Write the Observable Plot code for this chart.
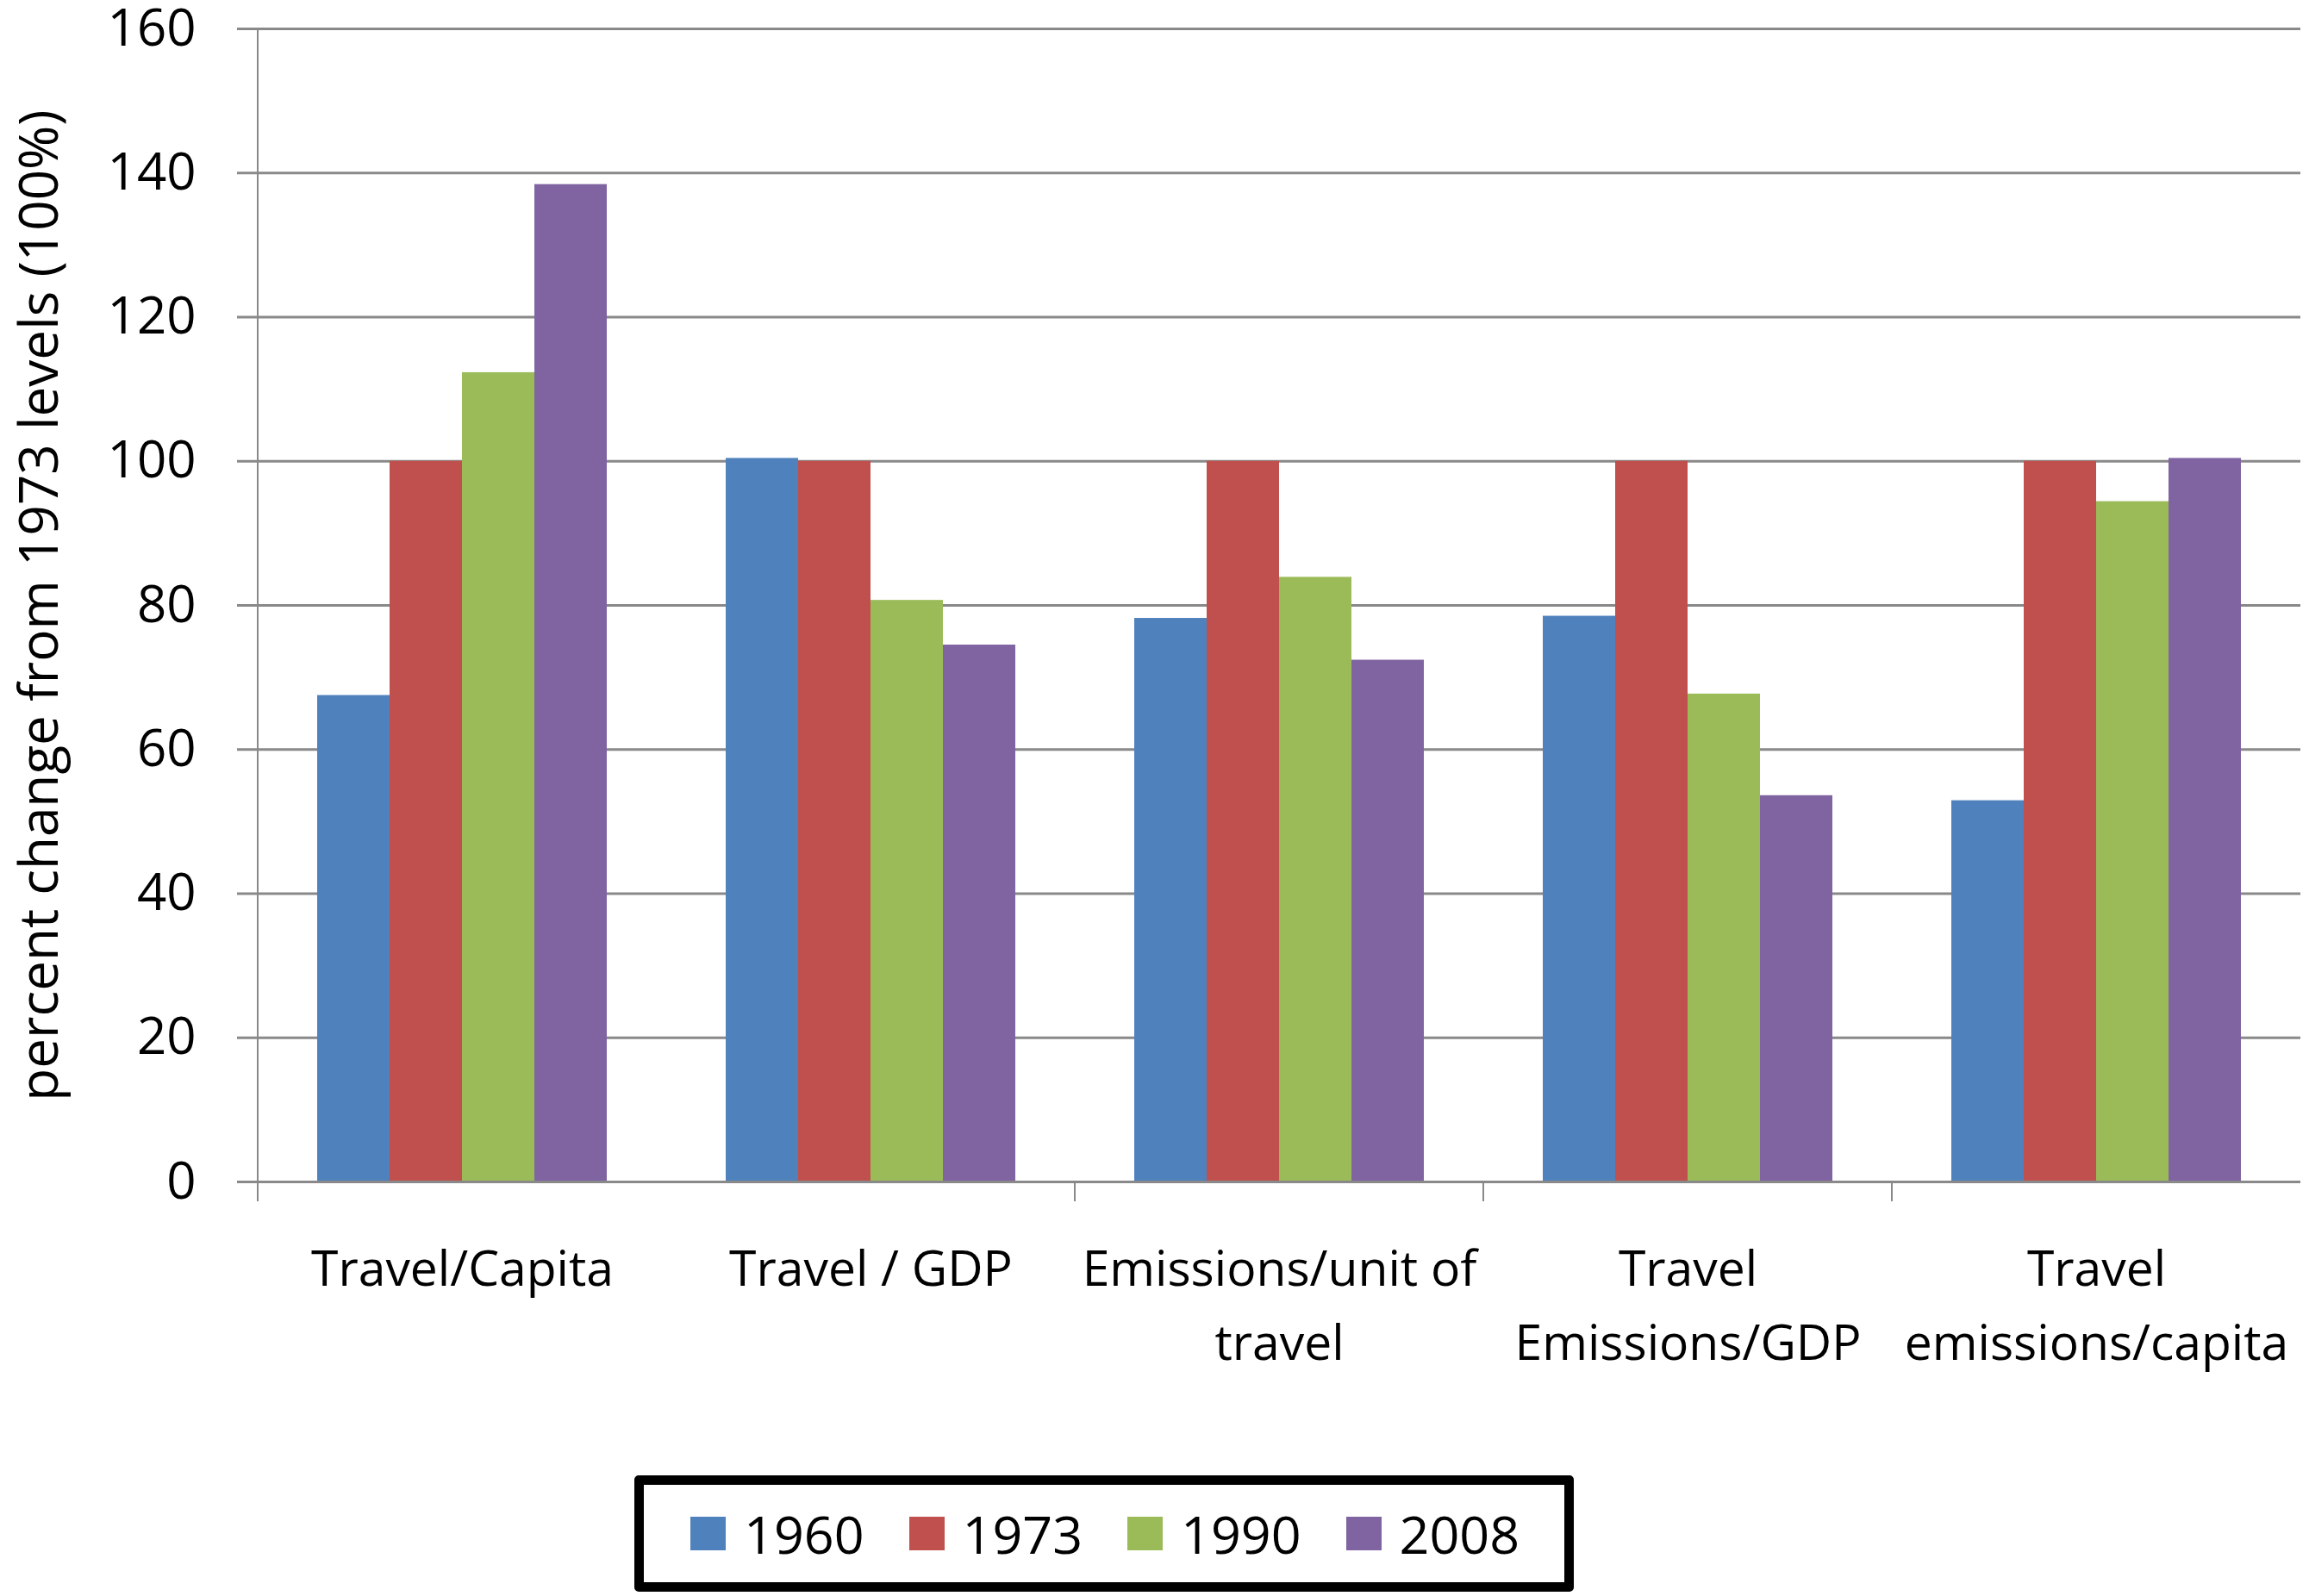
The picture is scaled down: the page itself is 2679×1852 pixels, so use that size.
<!DOCTYPE html>
<html>
<head>
<meta charset="utf-8">
<script src="https://cdn.jsdelivr.net/npm/d3@7"></script>
<script src="https://cdn.jsdelivr.net/npm/@observablehq/plot@0.6"></script>
<style>
  html, body { margin: 0; padding: 0; background: #fff; }
  #wrap { position: relative; width: 2679px; height: 1852px; font-family: "Open Sans", sans-serif; background: #fff; }
  #chart svg { display: block; overflow: visible; }
  #legend { position: absolute; left: 736px; top: 1712px; width: 1090px; height: 135px; box-sizing: border-box;
            border: 11px solid #000; border-radius: 5px; display: flex; align-items: center; padding-left: 54px; }
  .item { display: flex; align-items: center; width: 262px; }
  .sw { width: 41px; height: 39px; margin-right: 21px; }
  .lab { font-size: 61px; line-height: 1; color: #000; }
</style>
</head>
<body>
<div id="wrap">
  <div id="chart"></div>
  <div id="legend"></div>
</div>
<script>
const categories = ["Travel/Capita", "Travel / GDP", "Emissions/unit of travel", "Travel Emissions/GDP", "Travel emissions/capita"];
const categoryLabels = ["Travel/Capita", "Travel / GDP", "Emissions/unit of\ntravel", "Travel\nEmissions/GDP", "Travel\nemissions/capita"];
const years = ["1960", "1973", "1990", "2008"];
const values1960 = [67.5, 100.4, 78.2, 78.5, 52.9];
const values1973 = [100, 100, 100, 100, 100];
const values1990 = [112.3, 80.7, 83.9, 67.7, 94.4];
const values2008 = [138.4, 74.5, 72.4, 53.6, 100.4];
const colors = ["#4F81BD", "#C0504D", "#9BBB59", "#8064A2"];
const yTicks = [0, 20, 40, 60, 80, 100, 120, 140, 160];
const yTitle = "percent change from 1973 levels (100%)";

const series = [values1960, values1973, values1990, values2008];
const rows = categories.flatMap((c, i) => years.map((yr, j) => ({category: c, year: yr, value: series[j][i]})));

const grid = "#898989";

const chart = Plot.plot({
  width: 2679,
  height: 1680,
  marginLeft: 299,
  marginRight: 10,
  marginTop: 33,
  marginBottom: 309,
  style: {fontFamily: "'Open Sans', sans-serif", background: "#fff", color: "#000", overflow: "visible"},
  fx: {domain: categories, padding: 0, label: null},
  x: {domain: years, paddingInner: 0, paddingOuter: 0.79, axis: null},
  y: {domain: [0, 160], label: null},
  color: {domain: years, range: colors},
  marks: [
    Plot.ruleY(yTicks, {stroke: grid, strokeWidth: 3}),
    Plot.barY(rows, {fx: "category", x: "year", y: "value", fill: "year"}),
    Plot.ruleY([0], {stroke: grid, strokeWidth: 3}),
    Plot.axisY({ticks: yTicks, tickSize: 24, tickPadding: 48, fontSize: 60, stroke: grid, strokeWidth: 3, fill: "#000", label: null}),
    Plot.axisY({ticks: [], label: yTitle, labelAnchor: "center", labelOffset: 277, labelArrow: false, fontSize: 62, fill: "#000"}),
    Plot.axisFx({anchor: "bottom", tickSize: 0, tickPadding: 60, fontSize: 57, lineHeight: 1.5, fill: "#000",
                 tickFormat: c => categoryLabels[categories.indexOf(c)], label: null})
  ]
});

document.getElementById("chart").appendChild(chart);

// axis line and category boundary ticks, from the chart's own scales
const fx = chart.scale("fx");
const y = chart.scale("y");
const svg = d3.select(chart);
const x0 = fx.apply(categories[0]);
svg.append("line")
  .attr("x1", x0).attr("x2", x0)
  .attr("y1", y.apply(160)).attr("y2", y.apply(0) + 23)
  .attr("stroke", grid).attr("stroke-width", 2);
[2, 3, 4].forEach(i => {
  const xb = fx.apply(categories[i]);
  svg.append("line")
    .attr("x1", xb).attr("x2", xb)
    .attr("y1", y.apply(0)).attr("y2", y.apply(0) + 23)
    .attr("stroke", grid).attr("stroke-width", 2);
});

// legend
const legend = d3.select("#legend");
years.forEach((yr, j) => {
  const it = legend.append("div").attr("class", "item");
  it.append("div").attr("class", "sw").style("background", colors[j]);
  it.append("div").attr("class", "lab").text(yr);
});
</script>
</body>
</html>
